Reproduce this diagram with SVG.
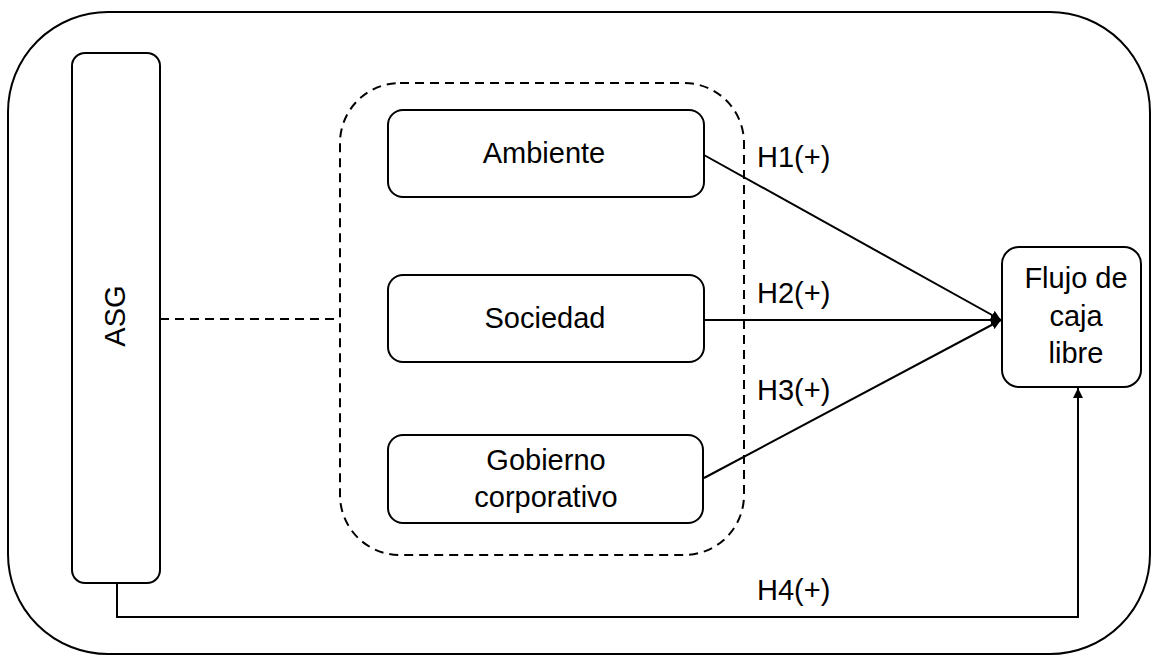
<svg xmlns="http://www.w3.org/2000/svg" width="1159" height="656" viewBox="0 0 1159 656">
<style>
.box{fill:#fff;stroke:#000;stroke-width:2}
.dash{fill:none;stroke:#000;stroke-width:2;stroke-dasharray:9 6}
.ln{fill:none;stroke:#000;stroke-width:2}
text{font-family:"Liberation Sans",Arial,sans-serif;font-size:29px;fill:#000}
.c{text-anchor:middle}
</style>
<defs>
<marker id="ah" viewBox="0 0 10 10" refX="10" refY="5" markerWidth="5" markerHeight="5" orient="auto" markerUnits="strokeWidth">
<path d="M0,0 L10,5 L0,10 z" fill="#000"/>
</marker>
</defs>
<rect x="8" y="12" width="1142" height="642" rx="100" fill="#fff" stroke="#000" stroke-width="2"/>
<g id="group-dashed"><rect class="dash" x="340" y="83" width="404" height="472" rx="60"/></g>
<g id="connectors">
<line class="dash" x1="160" y1="319" x2="340" y2="319"/>
<line class="ln" x1="704" y1="155" x2="1001" y2="320" marker-end="url(#ah)"/>
<line class="ln" x1="704" y1="320" x2="1001" y2="320" marker-end="url(#ah)"/>
<line class="ln" x1="704" y1="478" x2="1001" y2="320" marker-end="url(#ah)"/>
<polyline class="ln" points="117,583 117,617 1078,617 1078,388" marker-end="url(#ah)"/>
<text x="757" y="167">H1(+)</text>
<text x="757" y="303">H2(+)</text>
<text x="757" y="400">H3(+)</text>
<text x="757" y="600">H4(+)</text>
</g>
<g id="asg"><rect class="box" x="72" y="53" width="88" height="530" rx="13"/>
<text class="c" transform="translate(125,316) rotate(-90)">ASG</text></g>
<g id="ambiente"><rect class="box" x="388" y="110" width="316" height="87" rx="15"/>
<text class="c" x="544" y="163">Ambiente</text></g>
<g id="sociedad"><rect class="box" x="388" y="275" width="316" height="87" rx="15"/>
<text class="c" x="545" y="328">Sociedad</text></g>
<g id="gobierno"><rect class="box" x="388" y="435" width="315" height="88" rx="15"/>
<text class="c" x="546" y="470">Gobierno</text>
<text class="c" x="546" y="507">corporativo</text></g>
<g id="flujo"><rect class="box" x="1002" y="247" width="139" height="140" rx="17"/>
<text class="c" x="1076" y="288">Flujo de</text>
<text class="c" x="1076" y="326">caja</text>
<text class="c" x="1076" y="363">libre</text></g>
</svg>
